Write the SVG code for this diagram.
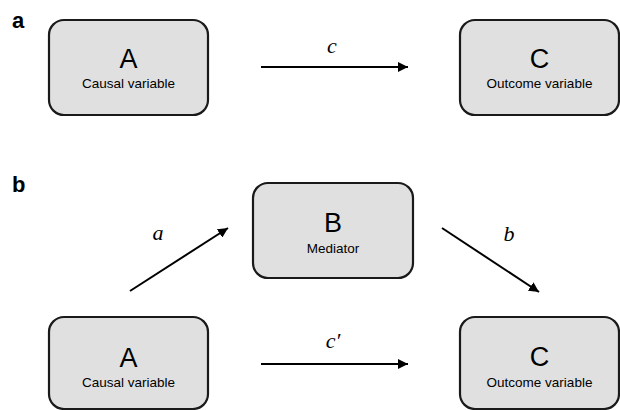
<svg xmlns="http://www.w3.org/2000/svg" width="620" height="410" viewBox="0 0 620 410">
<style>
.box{fill:#e0e0e0;stroke:#1a1a1a;stroke-width:2.2}
.big{font-family:"Liberation Sans",Arial,sans-serif;font-size:27px;text-anchor:middle;fill:#000}
.small{font-family:"Liberation Sans",Arial,sans-serif;font-size:13.5px;text-anchor:middle;fill:#000}
.panel{font-family:"Liberation Sans",Arial,sans-serif;font-size:22px;font-weight:bold;fill:#000}
.lab{font-family:"Liberation Serif","Times New Roman",serif;font-style:italic;font-size:22px;text-anchor:middle;fill:#000}
.edge{stroke:#000;stroke-width:2;fill:none;marker-end:url(#ah)}
</style>
<defs>
<marker id="ah" viewBox="0 0 10 10" refX="10" refY="5" markerWidth="10" markerHeight="10" markerUnits="userSpaceOnUse" orient="auto">
<path d="M0,0 L10,5 L0,10 z" fill="#000"/>
</marker>
</defs>
<text class="panel" x="12" y="28">a</text>
<text class="panel" x="12" y="192">b</text>
<g id="nodeA1">
<rect class="box" x="49" y="20" width="159" height="95" rx="15"/>
<text class="big" x="128.5" y="68">A</text>
<text class="small" x="128.5" y="88">Causal variable</text>
</g>
<g id="nodeC1">
<rect class="box" x="460" y="20" width="159" height="95" rx="15"/>
<text class="big" x="539.5" y="68">C</text>
<text class="small" x="539.5" y="88">Outcome variable</text>
</g>
<g id="nodeB">
<rect class="box" x="253" y="183" width="160" height="95" rx="15"/>
<text class="big" x="333" y="232">B</text>
<text class="small" x="333" y="253">Mediator</text>
</g>
<g id="nodeA2">
<rect class="box" x="49" y="317" width="159" height="92" rx="15"/>
<text class="big" x="128.5" y="367">A</text>
<text class="small" x="128.5" y="387">Causal variable</text>
</g>
<g id="nodeC2">
<rect class="box" x="460" y="317" width="159" height="92" rx="15"/>
<text class="big" x="539.5" y="366">C</text>
<text class="small" x="539.5" y="387">Outcome variable</text>
</g>
<g id="connectors">
<line class="edge" x1="261" y1="67" x2="408" y2="67"/>
<line class="edge" x1="130" y1="291" x2="228" y2="228"/>
<line class="edge" x1="442" y1="228" x2="539" y2="292"/>
<line class="edge" x1="261" y1="364" x2="408" y2="364"/>
</g>
<text class="lab" x="332" y="53">c</text>
<text class="lab" x="158" y="240">a</text>
<text class="lab" x="509" y="241">b</text>
<text class="lab" x="333" y="348">c′</text>
</svg>
